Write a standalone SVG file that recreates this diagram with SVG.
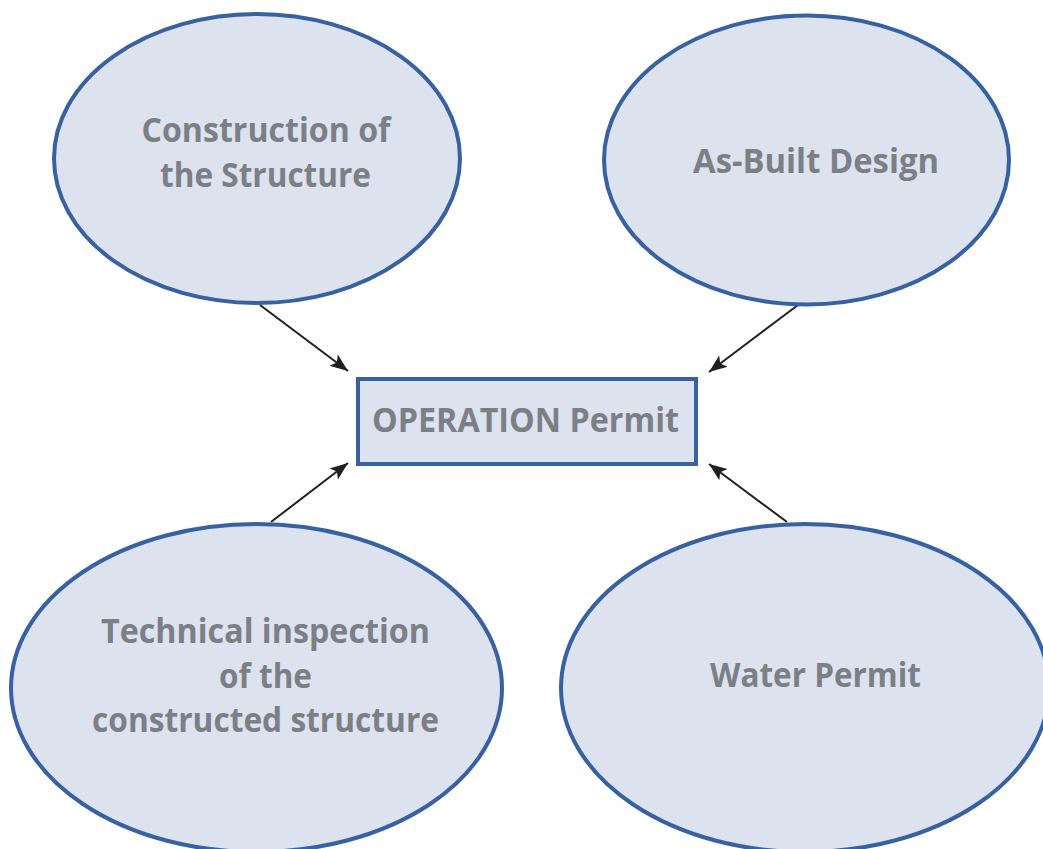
<svg xmlns="http://www.w3.org/2000/svg" width="1043" height="849" viewBox="0 0 1043 849">
<style>
.node{fill:#dce2ee;stroke:#3761a1;stroke-width:4}
.lbl{font-family:"Open Sans","Liberation Sans",sans-serif;font-weight:700;font-size:34px;fill:#7b7f86;text-anchor:middle}
.conn{stroke:#231f20;stroke-width:2;fill:none}
</style>
<defs>
<marker id="arr" markerUnits="userSpaceOnUse" markerWidth="20" markerHeight="16" viewBox="0 0 20 16" refX="18" refY="8" orient="auto">
<path d="M0,1 L18,8 L0,15 L4,8 Z" fill="#231f20"/>
</marker>
</defs>
<g id="connectors">
<line class="conn" x1="260" y1="305" x2="348" y2="371" marker-end="url(#arr)"/>
<line class="conn" x1="798" y1="305" x2="709" y2="372" marker-end="url(#arr)"/>
<line class="conn" x1="271" y1="522" x2="348" y2="463" marker-end="url(#arr)"/>
<line class="conn" x1="787" y1="522" x2="709" y2="464" marker-end="url(#arr)"/>
</g>
<g id="construction">
<ellipse class="node" cx="257" cy="158.5" rx="203" ry="144.5"/>
<text class="lbl" x="266" y="142" textLength="249" lengthAdjust="spacingAndGlyphs">Construction of</text>
<text class="lbl" x="265.5" y="187" textLength="211" lengthAdjust="spacingAndGlyphs">the Structure</text>
</g>
<g id="asbuilt">
<ellipse class="node" cx="806.5" cy="160" rx="202.5" ry="144.5"/>
<text class="lbl" x="816" y="173" textLength="246" lengthAdjust="spacingAndGlyphs">As-Built Design</text>
</g>
<g id="operation">
<rect class="node" x="358" y="379" width="338" height="85"/>
<text class="lbl" x="525.5" y="432" textLength="307" lengthAdjust="spacingAndGlyphs">OPERATION Permit</text>
</g>
<g id="technical">
<ellipse class="node" cx="256.5" cy="688" rx="245.5" ry="164"/>
<text class="lbl" x="265.5" y="643" textLength="329" lengthAdjust="spacingAndGlyphs">Technical inspection</text>
<text class="lbl" x="265.5" y="688" textLength="93" lengthAdjust="spacingAndGlyphs">of the</text>
<text class="lbl" x="265.5" y="732" textLength="347" lengthAdjust="spacingAndGlyphs">constructed structure</text>
</g>
<g id="water">
<ellipse class="node" cx="805" cy="688" rx="244" ry="164"/>
<text class="lbl" x="815.5" y="687" textLength="211" lengthAdjust="spacingAndGlyphs">Water Permit</text>
</g>
</svg>
